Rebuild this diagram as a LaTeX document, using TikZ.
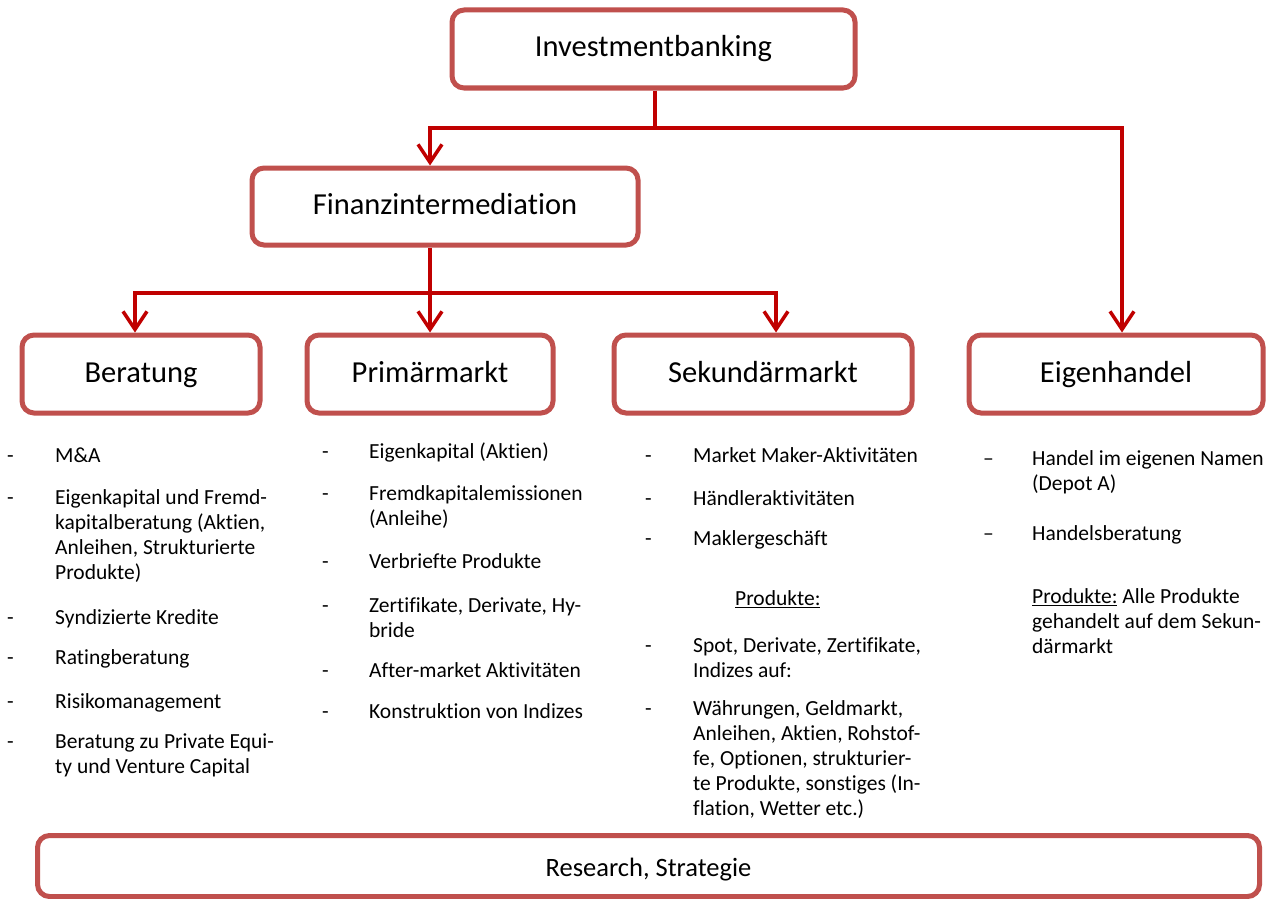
\documentclass[tikz,border=0pt]{standalone}
\usepackage{fontspec}
\setmainfont{Carlito}[Ligatures={TeX,NoCommon}]
\usepackage{array}
\usetikzlibrary{arrows.meta, positioning}
\definecolor{boxred}{RGB}{192,80,77}
\definecolor{linkred}{RGB}{192,0,0}
\newcommand{\listfont}{\fontsize{21.5}{25}\selectfont}

\begin{document}
\begin{tikzpicture}[x=1pt, y=-1pt,
    unit/.style={draw=boxred, line width=5pt, rounded corners=12pt, fill=white,
        minimum height=78pt, text height=20pt, text depth=4pt,
        font=\fontsize{30.5}{36}\selectfont},
    link/.style={draw=linkred, line width=3.5pt},
    arr/.style={link, -{Straight Barb[length=18pt, width=24pt]}},
    items/.style={anchor=north west, inner sep=0pt, font=\listfont}]
    \useasboundingbox (0,0) rectangle (1272,899);
    % Boxes
    \node[unit, minimum width=403pt] (ib) at (653.5,49)  {Investmentbanking};
    \node[unit, minimum width=386pt, minimum height=77pt] (fi) at (445,206.5) {Finanzintermediation};
    \node[unit, minimum width=238pt] (be) at (141,374)  {Beratung};
    \node[unit, minimum width=246pt] (pm) at (430,374)  {Primärmarkt};
    \node[unit, minimum width=298pt] (sm) at (763,374)  {Sekundärmarkt};
    \node[unit, minimum width=294pt] (eh) at (1116,374) {Eigenhandel};
    \node[unit, minimum width=1222pt, minimum height=61pt, text height=25pt, text depth=4pt,
        font=\fontsize{26.5}{31}\selectfont] (rs) at (648.5,866) {Research, Strategie};
    % Connectors
    \coordinate (topbus) at (655,128);
    \coordinate (midbus) at (430,293);
    \draw[link] (ib.south -| topbus) -- (topbus);
    \draw[arr]  (topbus) -| (pm.north |- fi.north);
    \draw[arr]  (topbus) -| ([xshift=6pt]eh.north);
    \draw[arr]  (pm.north |- fi.south) -- (pm.north);
    \draw[arr]  (midbus) -| ([xshift=-6pt]be.north);
    \draw[arr]  (midbus) -| ([xshift=13pt]sm.north);
    % Lists under the boxes
    \node[items] (beList) at (7,444.5) {\begin{tabular}{@{}p{48pt}@{}l@{}}
        - & M\&A\\[17pt]
        - & Eigenkapital und Fremd-\\
          & kapitalberatung (Aktien,\\
          & Anleihen, Strukturierte\\
          & Produkte)\\[20pt]
        - & Syndizierte Kredite\\[15pt]
        - & Ratingberatung\\[19pt]
        - & Risikomanagement\\[15pt]
        - & Beratung zu Private Equi-\\
          & ty und Venture Capital
    \end{tabular}};
    \node[items] (pmList) at (322,440.5) {\begin{tabular}{@{}p{47pt}@{}l@{}}
        - & Eigenkapital (Aktien)\\[17pt]
        - & Fremdkapitalemissionen\\
          & (Anleihe)\\[18pt]
        - & Verbriefte Produkte\\[19pt]
        - & Zertifikate, Derivate, Hy-\\
          & bride\\[15pt]
        - & After-market Aktivitäten\\[16pt]
        - & Konstruktion von Indizes
    \end{tabular}};
    \node[items] (smList) at (645,444.5) {\begin{tabular}{@{}p{48pt}@{}l@{}}
        - & Market Maker-Aktivitäten\\[18pt]
        - & Händleraktivitäten\\[15pt]
        - & Maklergeschäft\\[35pt]
          & \hspace{42pt}\underline{Produkte:}\\[22pt]
        - & Spot, Derivate, Zertifikate,\\
          & Indizes auf:\\[13pt]
        - & Währungen, Geldmarkt,\\
          & Anleihen, Aktien, Rohstof-\\
          & fe, Optionen, strukturier-\\
          & te Produkte, sonstiges (In-\\
          & flation, Wetter etc.)
    \end{tabular}};
    \node[items] (ehList) at (983,447.5) {\begin{tabular}{@{}p{49pt}@{}l@{}}
        -- & Handel im eigenen Namen\\
           & (Depot A)\\[25pt]
        -- & Handelsberatung\\[38pt]
           & \underline{Produkte:} Alle Produkte\\
           & gehandelt auf dem Sekun-\\
           & därmarkt
    \end{tabular}};
\end{tikzpicture}
\end{document}
